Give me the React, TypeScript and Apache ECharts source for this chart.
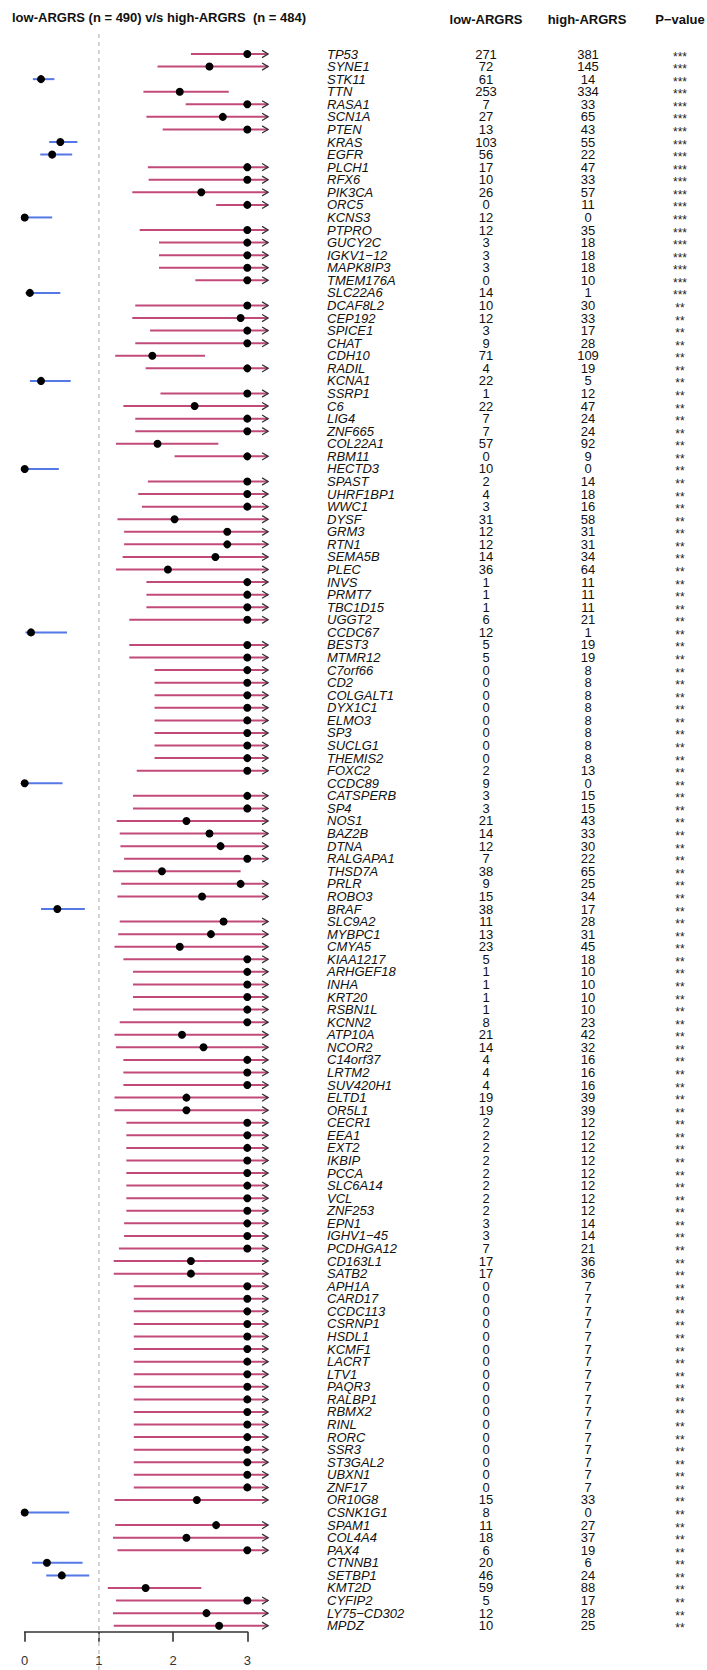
import React, { useEffect, useRef } from "react";
import * as echarts from "echarts";

const genes = [
  "TP53", "SYNE1", "STK11", "TTN", "RASA1", "SCN1A", "PTEN", "KRAS", "EGFR", "PLCH1",
  "RFX6", "PIK3CA", "ORC5", "KCNS3", "PTPRO", "GUCY2C", "IGKV1\u221212", "MAPK8IP3", "TMEM176A", "SLC22A6",
  "DCAF8L2", "CEP192", "SPICE1", "CHAT", "CDH10", "RADIL", "KCNA1", "SSRP1", "C6", "LIG4",
  "ZNF665", "COL22A1", "RBM11", "HECTD3", "SPAST", "UHRF1BP1", "WWC1", "DYSF", "GRM3", "RTN1",
  "SEMA5B", "PLEC", "INVS", "PRMT7", "TBC1D15", "UGGT2", "CCDC67", "BEST3", "MTMR12", "C7orf66",
  "CD2", "COLGALT1", "DYX1C1", "ELMO3", "SP3", "SUCLG1", "THEMIS2", "FOXC2", "CCDC89", "CATSPERB",
  "SP4", "NOS1", "BAZ2B", "DTNA", "RALGAPA1", "THSD7A", "PRLR", "ROBO3", "BRAF", "SLC9A2",
  "MYBPC1", "CMYA5", "KIAA1217", "ARHGEF18", "INHA", "KRT20", "RSBN1L", "KCNN2", "ATP10A", "NCOR2",
  "C14orf37", "LRTM2", "SUV420H1", "ELTD1", "OR5L1", "CECR1", "EEA1", "EXT2", "IKBIP", "PCCA",
  "SLC6A14", "VCL", "ZNF253", "EPN1", "IGHV1\u221245", "PCDHGA12", "CD163L1", "SATB2", "APH1A", "CARD17",
  "CCDC113", "CSRNP1", "HSDL1", "KCMF1", "LACRT", "LTV1", "PAQR3", "RALBP1", "RBMX2", "RINL",
  "RORC", "SSR3", "ST3GAL2", "UBXN1", "ZNF17", "OR10G8", "CSNK1G1", "SPAM1", "COL4A4", "PAX4",
  "CTNNB1", "SETBP1", "KMT2D", "CYFIP2", "LY75\u2212CD302", "MPDZ",
];

const lowCounts = [
  271, 72, 61, 253, 7, 27, 13, 103, 56, 17,
  10, 26, 0, 12, 12, 3, 3, 3, 0, 14,
  10, 12, 3, 9, 71, 4, 22, 1, 22, 7,
  7, 57, 0, 10, 2, 4, 3, 31, 12, 12,
  14, 36, 1, 1, 1, 6, 12, 5, 5, 0,
  0, 0, 0, 0, 0, 0, 0, 2, 9, 3,
  3, 21, 14, 12, 7, 38, 9, 15, 38, 11,
  13, 23, 5, 1, 1, 1, 1, 8, 21, 14,
  4, 4, 4, 19, 19, 2, 2, 2, 2, 2,
  2, 2, 2, 3, 3, 7, 17, 17, 0, 0,
  0, 0, 0, 0, 0, 0, 0, 0, 0, 0,
  0, 0, 0, 0, 0, 15, 8, 11, 18, 6,
  20, 46, 59, 5, 12, 10,
];

const highCounts = [
  381, 145, 14, 334, 33, 65, 43, 55, 22, 47,
  33, 57, 11, 0, 35, 18, 18, 18, 10, 1,
  30, 33, 17, 28, 109, 19, 5, 12, 47, 24,
  24, 92, 9, 0, 14, 18, 16, 58, 31, 31,
  34, 64, 11, 11, 11, 21, 1, 19, 19, 8,
  8, 8, 8, 8, 8, 8, 8, 13, 0, 15,
  15, 43, 33, 30, 22, 65, 25, 34, 17, 28,
  31, 45, 18, 10, 10, 10, 10, 23, 42, 32,
  16, 16, 16, 39, 39, 12, 12, 12, 12, 12,
  12, 12, 12, 14, 14, 21, 36, 36, 7, 7,
  7, 7, 7, 7, 7, 7, 7, 7, 7, 7,
  7, 7, 7, 7, 7, 33, 0, 27, 37, 19,
  6, 24, 88, 17, 28, 25,
];

const pStars = [
  "***", "***", "***", "***", "***", "***", "***", "***", "***", "***",
  "***", "***", "***", "***", "***", "***", "***", "***", "***", "***",
  "**", "**", "**", "**", "**", "**", "**", "**", "**", "**",
  "**", "**", "**", "**", "**", "**", "**", "**", "**", "**",
  "**", "**", "**", "**", "**", "**", "**", "**", "**", "**",
  "**", "**", "**", "**", "**", "**", "**", "**", "**", "**",
  "**", "**", "**", "**", "**", "**", "**", "**", "**", "**",
  "**", "**", "**", "**", "**", "**", "**", "**", "**", "**",
  "**", "**", "**", "**", "**", "**", "**", "**", "**", "**",
  "**", "**", "**", "**", "**", "**", "**", "**", "**", "**",
  "**", "**", "**", "**", "**", "**", "**", "**", "**", "**",
  "**", "**", "**", "**", "**", "**", "**", "**", "**", "**",
  "**", "**", "**", "**", "**", "**",
];

// odds ratio (display capped at 3)
const orPoint = [
  3.0, 2.49, 0.22, 2.09, 3.0, 2.67, 3.0, 0.48, 0.37, 3.0,
  3.0, 2.38, 3.0, 0.0, 3.0, 3.0, 3.0, 3.0, 3.0, 0.07,
  3.0, 2.91, 3.0, 3.0, 1.72, 3.0, 0.22, 3.0, 2.29, 3.0,
  3.0, 1.79, 3.0, 0.0, 3.0, 3.0, 3.0, 2.02, 2.73, 2.73,
  2.57, 1.93, 3.0, 3.0, 3.0, 3.0, 0.085, 3.0, 3.0, 3.0,
  3.0, 3.0, 3.0, 3.0, 3.0, 3.0, 3.0, 3.0, 0.0, 3.0,
  3.0, 2.18, 2.49, 2.64, 3.0, 1.85, 2.91, 2.39, 0.44, 2.68,
  2.51, 2.09, 3.0, 3.0, 3.0, 3.0, 3.0, 3.0, 2.12, 2.41,
  3.0, 3.0, 3.0, 2.18, 2.18, 3.0, 3.0, 3.0, 3.0, 3.0,
  3.0, 3.0, 3.0, 3.0, 3.0, 3.0, 2.24, 2.24, 3.0, 3.0,
  3.0, 3.0, 3.0, 3.0, 3.0, 3.0, 3.0, 3.0, 3.0, 3.0,
  3.0, 3.0, 3.0, 3.0, 3.0, 2.32, 0.0, 2.58, 2.18, 3.0,
  0.30, 0.50, 1.63, 3.0, 2.45, 2.62,
];

const ciLower = [
  2.24, 1.79, 0.11, 1.60, 2.17, 1.64, 1.86, 0.33, 0.21, 1.66,
  1.67, 1.45, 2.58, 0.0, 1.55, 1.81, 1.81, 1.81, 2.30, 0.01,
  1.49, 1.45, 1.69, 1.49, 1.22, 1.63, 0.07, 1.83, 1.33, 1.49,
  1.49, 1.23, 2.02, 0.0, 1.66, 1.53, 1.58, 1.25, 1.34, 1.34,
  1.32, 1.23, 1.64, 1.64, 1.64, 1.41, 0.01, 1.41, 1.41, 1.75,
  1.75, 1.75, 1.75, 1.75, 1.75, 1.75, 1.75, 1.51, 0.0, 1.46,
  1.46, 1.24, 1.28, 1.29, 1.34, 1.19, 1.30, 1.25, 0.22, 1.28,
  1.26, 1.21, 1.33, 1.46, 1.46, 1.46, 1.46, 1.28, 1.21, 1.23,
  1.33, 1.33, 1.33, 1.21, 1.21, 1.37, 1.37, 1.37, 1.37, 1.37,
  1.37, 1.37, 1.37, 1.34, 1.34, 1.27, 1.20, 1.20, 1.47, 1.47,
  1.47, 1.47, 1.47, 1.47, 1.47, 1.47, 1.47, 1.47, 1.47, 1.47,
  1.47, 1.47, 1.47, 1.47, 1.47, 1.21, 0.0, 1.22, 1.19, 1.25,
  0.10, 0.29, 1.12, 1.23, 1.19, 1.20,
];

// null = upper limit beyond the plotted range (drawn as an arrow)
const ciUpper: (number | null)[] = [
  null, null, 0.40, 2.75, null, null, null, 0.71, 0.64, null,
  null, null, null, 0.37, null, null, null, null, null, 0.48,
  null, null, null, null, 2.43, null, 0.62, null, null, null,
  null, 2.61, null, 0.46, null, null, null, null, null, null,
  null, null, null, null, null, null, 0.57, null, null, null,
  null, null, null, null, null, null, null, null, 0.51, null,
  null, null, null, null, null, 2.91, null, null, 0.81, null,
  null, null, null, null, null, null, null, null, null, null,
  null, null, null, null, null, null, null, null, null, null,
  null, null, null, null, null, null, null, null, null, null,
  null, null, null, null, null, null, null, null, null, null,
  null, null, null, null, null, null, 0.60, null, null, null,
  0.78, 0.87, 2.38, null, null, null,
];

const xTicks = [0, 1, 2, 3];
const REF_OR = 1;
const ARROW_END = 3.28;

const TITLE = "low-ARGRS (n = 490) v/s high-ARGRS  (n = 484)";
const COL_HEADERS = ["low-ARGRS", "high-ARGRS", "P\u2212value"];

const FONT = '"Liberation Sans", Arial, Helvetica, sans-serif';
const RED = "#c24a7a";
const BLUE = "#5479e6";

export default function App() {
  const ref = useRef<HTMLDivElement>(null);

  useEffect(() => {
    document.body.style.margin = "0";
    if (!ref.current) return;
    const chart = echarts.init(ref.current, undefined, { renderer: "svg" });

    const W = 707;
    const left = 24.7;
    const right = W - 247.3;

    const ciData = genes.map((_, i) => [
      i,
      ciLower[i],
      orPoint[i],
      ciUpper[i] == null ? ARROW_END : (ciUpper[i] as number),
      ciUpper[i] == null ? 1 : 0,
    ]);

    const textData = genes.map((_, i) => [0, i]);

    const option: any = {
      animation: false,
      backgroundColor: "#ffffff",
      textStyle: { fontFamily: FONT },
      grid: [
        { left, right, top: 54, bottom: 44.3, containLabel: false },
        { left, right, top: 30, bottom: 0, containLabel: false },
      ],
      xAxis: [
        {
          gridIndex: 0,
          type: "value",
          min: xTicks[0],
          max: xTicks[xTicks.length - 1],
          interval: 1,
          position: "bottom",
          offset: 6,
          axisLine: { show: true, onZero: false, lineStyle: { color: "#333", width: 1.6 } },
          axisTick: { show: true, inside: false, length: 10, lineStyle: { color: "#333", width: 1.6 } },
          axisLabel: { show: true, margin: 22, fontSize: 13, color: "#333", fontFamily: FONT },
          splitLine: { show: false },
        },
        { gridIndex: 1, type: "value", min: 0, max: 3, show: false },
      ],
      yAxis: [
        { gridIndex: 0, type: "value", min: 0, max: genes.length - 1, inverse: true, show: false },
        { gridIndex: 1, type: "value", min: 0, max: 1, show: false },
      ],
      series: [
        {
          type: "line",
          xAxisIndex: 1,
          yAxisIndex: 1,
          data: [
            [REF_OR, 0],
            [REF_OR, 1],
          ],
          symbol: "none",
          silent: true,
          z: 1,
          lineStyle: { color: "#c4c4c4", width: 1.5, type: [4, 4] },
        },
        {
          type: "custom",
          xAxisIndex: 0,
          yAxisIndex: 0,
          clip: false,
          z: 3,
          data: ciData,
          renderItem: (params: any, api: any) => {
            const row = api.value(0);
            const lo = api.value(1);
            const pt = api.value(2);
            const hi = api.value(3);
            const arrow = api.value(4) === 1;
            const pLo = api.coord([lo, row]);
            const pHi = api.coord([hi, row]);
            const pPt = api.coord([pt, row]);
            const y = pPt[1];
            const color = pt < 1 ? BLUE : RED;
            const children: any[] = [
              {
                type: "line",
                shape: { x1: pLo[0], y1: y, x2: pHi[0], y2: y },
                style: { stroke: color, lineWidth: 2 },
              },
            ];
            if (arrow) {
              const tx = pHi[0];
              children.push({
                type: "polyline",
                shape: {
                  points: [
                    [tx - 6, y - 3.6],
                    [tx, y],
                    [tx - 6, y + 3.6],
                  ],
                },
                style: { stroke: "#333", fill: null, lineWidth: 1.3 },
              });
            }
            children.push({
              type: "circle",
              shape: { cx: pPt[0], cy: y, r: 4 },
              style: { fill: "#000" },
            });
            return { type: "group", children };
          },
        },
        {
          type: "custom",
          xAxisIndex: 0,
          yAxisIndex: 0,
          clip: false,
          z: 4,
          data: textData,
          renderItem: (params: any, api: any) => {
            const i = params.dataIndex;
            const y = api.coord([0, api.value(1)])[1];
            return {
              type: "group",
              children: [
                {
                  type: "text",
                  x: 327,
                  y,
                  style: {
                    text: genes[i],
                    fontFamily: FONT,
                    fontSize: 13,
                    fontStyle: "italic",
                    fill: "#111",
                    align: "left",
                    verticalAlign: "middle",
                  },
                },
                {
                  type: "text",
                  x: 486,
                  y,
                  style: {
                    text: String(lowCounts[i]),
                    fontFamily: FONT,
                    fontSize: 13,
                    fill: "#111",
                    align: "center",
                    verticalAlign: "middle",
                  },
                },
                {
                  type: "text",
                  x: 588,
                  y,
                  style: {
                    text: String(highCounts[i]),
                    fontFamily: FONT,
                    fontSize: 13,
                    fill: "#111",
                    align: "center",
                    verticalAlign: "middle",
                  },
                },
                {
                  type: "text",
                  x: 680,
                  y: y + 2.5,
                  style: {
                    text: pStars[i],
                    fontFamily: FONT,
                    fontSize: 12,
                    fill: "#222",
                    align: "center",
                    verticalAlign: "middle",
                  },
                },
              ],
            };
          },
        },
      ],
      graphic: [
        {
          type: "text",
          left: 12,
          top: 11,
          style: { text: TITLE, fontFamily: FONT, fontSize: 13, fontWeight: "bold", fill: "#111" },
        },
        {
          type: "text",
          x: 486,
          y: 19,
          style: {
            text: COL_HEADERS[0],
            fontFamily: FONT,
            fontSize: 13,
            fontWeight: "bold",
            fill: "#111",
            align: "center",
            verticalAlign: "middle",
          },
        },
        {
          type: "text",
          x: 587,
          y: 19,
          style: {
            text: COL_HEADERS[1],
            fontFamily: FONT,
            fontSize: 13,
            fontWeight: "bold",
            fill: "#111",
            align: "center",
            verticalAlign: "middle",
          },
        },
        {
          type: "text",
          x: 680,
          y: 19,
          style: {
            text: COL_HEADERS[2],
            fontFamily: FONT,
            fontSize: 13,
            fontWeight: "bold",
            fill: "#111",
            align: "center",
            verticalAlign: "middle",
          },
        },
      ],
    };

    chart.setOption(option);
    return () => chart.dispose();
  }, []);

  return <div ref={ref} style={{ width: 707, height: 1670, background: "#fff" }} />;
}
